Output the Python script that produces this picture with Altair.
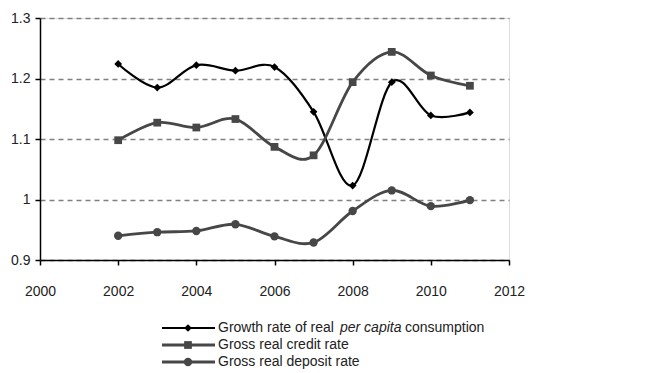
import altair as alt
import pandas as pd

years = [2002, 2003, 2004, 2005, 2006, 2007, 2008, 2009, 2010, 2011]
growth = [1.224, 1.185, 1.222, 1.213, 1.219, 1.145, 1.023, 1.194, 1.139, 1.144]
credit = [1.098, 1.127, 1.119, 1.133, 1.087, 1.073, 1.194, 1.244, 1.205, 1.188]
deposit = [0.940, 0.946, 0.948, 0.959, 0.939, 0.929, 0.981, 1.015, 0.989, 0.999]

series_names = ["Growth rate of real per capita consumption",
                "Gross real credit rate",
                "Gross real deposit rate"]
series_vals = [growth, credit, deposit]
colors = ["#000000", "#474747", "#474747"]
shapes = ["diamond", "square", "circle"]
sizes = [60, 60, 70]
widths = [2.2, 2.8, 2.8]

x_ticks = [2000, 2002, 2004, 2006, 2008, 2010, 2012]
y_ticks = [0.9, 1.0, 1.1, 1.2, 1.3]

FONT = "Liberation Sans"
FS = 14
W, H = 469, 242

xs = alt.Scale(domain=[2000, 2012], nice=False)
ys = alt.Scale(domain=[0.9, 1.3], nice=False, zero=False)

layers = []
for name, vals, col, shp, sz, sw in zip(series_names, series_vals, colors, shapes, sizes, widths):
    df = pd.DataFrame({"year": years, "value": vals, "series": name})
    base = alt.Chart(df)
    line = base.mark_line(color=col, strokeWidth=sw, interpolate="cardinal").encode(
        x=alt.X("year:Q", scale=xs,
                axis=alt.Axis(values=x_ticks, format="d", title=None, grid=False,
                              labelFlush=False, labelOverlap=False,
                              domainColor="black", domainWidth=1.5, tickColor="black",
                              tickSize=5, tickWidth=1.5, labelPadding=19,
                              labelFont=FONT, labelFontSize=FS, labelColor="#222")),
        y=alt.Y("value:Q", scale=ys,
                axis=alt.Axis(values=y_ticks, format="~g", title=None, grid=True,
                              labelFlush=False, labelOverlap=False,
                              gridColor="#808080", gridDash=[5, 4], gridWidth=1.3,
                              domainColor="black", domainWidth=1.5, tickColor="black",
                              tickSize=5, tickWidth=1.5, labelPadding=5,
                              labelFont=FONT, labelFontSize=FS, labelColor="#222")),
    )
    pts = base.mark_point(shape=shp, filled=True, color=col, size=sz, opacity=1).encode(
        x=alt.X("year:Q", scale=xs), y=alt.Y("value:Q", scale=ys)
    )
    layers += [line, pts]

# manual legend (below plot)
legend_rows = [310, 327, 344]
for i, (col, shp, sz, sw) in enumerate(zip(colors, shapes, sizes, widths)):
    ly = legend_rows[i]
    layers.append(alt.Chart(pd.DataFrame({"k": [0]})).mark_rule(color=col, strokeWidth=sw).encode(
        x=alt.value(122), x2=alt.value(175), y=alt.value(ly)))
    layers.append(alt.Chart(pd.DataFrame({"k": [0]})).mark_point(
        shape=shp, filled=True, color=col, size=sz, opacity=1).encode(
        x=alt.value(148), y=alt.value(ly)))

def txt(s, x, y, style="normal"):
    return alt.Chart(pd.DataFrame({"t": [s]})).mark_text(
        align="left", baseline="middle", font=FONT, fontSize=FS, fontStyle=style,
        color="#222").encode(text="t:N", x=alt.value(x), y=alt.value(y))

layers.append(txt("Growth rate of real", 178, legend_rows[0]))
layers.append(txt("per capita", 300, legend_rows[0], "italic"))
layers.append(txt("consumption", 365, legend_rows[0]))
layers.append(txt("Gross real credit rate", 178, legend_rows[1]))
layers.append(txt("Gross real deposit rate", 178, legend_rows[2]))

chart = alt.layer(*layers).properties(
    width=W, height=H,
    padding={"left": 40, "top": 18, "right": 154, "bottom": 113},
    autosize=alt.AutoSizeParams(type="none"),
).configure_view(stroke=None).configure(background="white")

chart.save("out.html", embed_options={"renderer": "svg", "actions": False})
